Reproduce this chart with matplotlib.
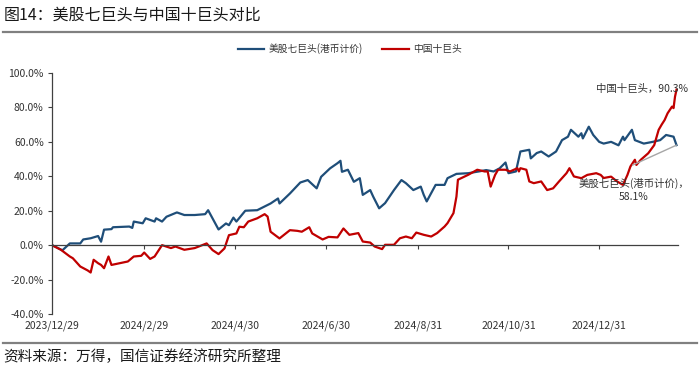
import matplotlib
matplotlib.use("Agg")
import matplotlib.pyplot as plt
import matplotlib.dates as mdates
from matplotlib.lines import Line2D
import pandas as pd

plt.rcParams['font.family'] = ['Noto Sans CJK SC', 'DejaVu Sans']
plt.rcParams['axes.unicode_minus'] = False

# ---------------- data ----------------
us_dates = ['2023-12-29','2024-01-05','2024-01-10','2024-01-17','2024-01-19','2024-01-24','2024-01-29','2024-01-31','2024-02-02','2024-02-07',
            '2024-02-08','2024-02-19','2024-02-21','2024-02-22','2024-02-28','2024-03-01','2024-03-07','2024-03-08','2024-03-12','2024-03-15',
            '2024-03-22','2024-03-27','2024-04-03','2024-04-10','2024-04-12','2024-04-19','2024-04-24','2024-04-26','2024-04-29','2024-05-01',
            '2024-05-07','2024-05-15','2024-05-24','2024-05-29','2024-05-30','2024-06-06','2024-06-13','2024-06-18','2024-06-24','2024-06-27',
            '2024-07-03','2024-07-08','2024-07-10','2024-07-11','2024-07-15','2024-07-19','2024-07-23','2024-07-25','2024-07-30','2024-08-01',
            '2024-08-05','2024-08-09','2024-08-15','2024-08-20','2024-08-23','2024-08-28','2024-09-02','2024-09-04','2024-09-06','2024-09-12',
            '2024-09-18','2024-09-20','2024-09-26','2024-10-04','2024-10-11','2024-10-16','2024-10-21','2024-10-25','2024-10-29','2024-10-31',
            '2024-11-05','2024-11-08','2024-11-14','2024-11-15','2024-11-19','2024-11-22','2024-11-27','2024-12-02','2024-12-06','2024-12-10',
            '2024-12-12','2024-12-17','2024-12-19','2024-12-20','2024-12-24','2024-12-27','2024-12-31','2025-01-03','2025-01-08','2025-01-13',
            '2025-01-16','2025-01-17','2025-01-22','2025-01-24','2025-01-30','2025-02-05','2025-02-10','2025-02-14','2025-02-19','2025-02-21']
us_values = [0, -3, 1, 1, 3.3, 4, 5.3, 2, 9, 9.3,
             10.4, 10.8, 10, 13.7, 12.7, 15.6, 13.7, 15.6, 13.7, 16.5,
             19, 17.5, 17.5, 18, 20.3, 9.1, 12.6, 11.6, 16, 13.7,
             20, 20.3, 24.2, 27.1, 24.2, 30, 36.4, 37.8, 33, 39.7,
             44.6, 47.6, 49, 42.6, 43.8, 36.8, 38.9, 29.2, 32, 28.2,
             21.4, 24.4, 32, 37.8, 36, 32, 34, 29.2, 25.4, 35,
             35, 38.9, 41.4, 41.8, 42.8, 43.6, 42.8, 44.6, 48, 41.8,
             42.8, 54.4, 55.4, 50.4, 53.5, 54.4, 51.5, 54.4, 61, 63,
             67, 63, 65, 62, 68.8, 64, 60, 59, 60, 58,
             63, 61, 67, 61, 59, 60, 61, 64, 63, 58.1]

cn_dates = ['2023-12-29','2024-01-04','2024-01-10','2024-01-12','2024-01-17','2024-01-22','2024-01-24','2024-01-26','2024-01-29','2024-01-31',
            '2024-02-02','2024-02-05','2024-02-07','2024-02-18','2024-02-22','2024-02-27','2024-02-29','2024-03-04','2024-03-07','2024-03-12',
            '2024-03-18','2024-03-21','2024-03-27','2024-04-03','2024-04-11','2024-04-15','2024-04-19','2024-04-23','2024-04-26','2024-05-01',
            '2024-05-03','2024-05-06','2024-05-09','2024-05-15','2024-05-20','2024-05-22','2024-05-24','2024-05-30','2024-06-06','2024-06-11',
            '2024-06-14','2024-06-19','2024-06-21','2024-06-28','2024-07-02','2024-07-08','2024-07-12','2024-07-16','2024-07-22','2024-07-25',
            '2024-07-30','2024-08-02','2024-08-07','2024-08-09','2024-08-15','2024-08-19','2024-08-23','2024-08-27','2024-08-30','2024-09-04',
            '2024-09-09','2024-09-13','2024-09-18','2024-09-20','2024-09-24','2024-09-26','2024-09-27','2024-10-04','2024-10-10','2024-10-15',
            '2024-10-17','2024-10-19','2024-10-22','2024-10-24','2024-10-29','2024-11-01','2024-11-06','2024-11-07','2024-11-08','2024-11-12',
            '2024-11-14','2024-11-17','2024-11-22','2024-11-26','2024-11-30','2024-12-04','2024-12-09','2024-12-11','2024-12-14','2024-12-19',
            '2024-12-23','2024-12-29','2025-01-01','2025-01-03','2025-01-08','2025-01-12','2025-01-16','2025-01-19','2025-01-21','2025-01-24',
            '2025-01-25','2025-01-28','2025-02-02','2025-02-06','2025-02-09','2025-02-11','2025-02-13','2025-02-15','2025-02-18','2025-02-19',
            '2025-02-20','2025-02-21']
cn_values = [0, -2.7, -6.6, -7.6, -12.4, -14.7, -15.9, -8.5, -10.5, -11.5,
             -13.4, -6.6, -11.5, -9.5, -6.6, -6.2, -4.3, -8.0, -6.6, 0,
             -1.7, -0.8, -2.7, -1.7, 1, -2.9, -5.2, -1.9, 5.8, 6.8,
             10.7, 10.4, 13.7, 15.6, 18, 16.6, 7.8, 3.9, 8.7, 8.3,
             7.8, 10.4, 6.8, 3.3, 4.8, 4.5, 9.7, 6, 7, 2.1,
             1.5, -0.8, -2.3, 0.2, 0.2, 4, 5, 4, 7.3, 6,
             5, 7, 10.8, 12.8, 18.6, 28.2, 38, 40.9, 43.8, 42.8,
             42.8, 34, 40.8, 43.8, 43.8, 42.8, 44.7, 42.8, 44.7, 43.8,
             37, 36, 37, 32, 33, 37, 41.8, 44.7, 39.9, 38.9,
             40.8, 41.8, 40.8, 39, 39.8, 37, 35, 40.8, 45.7, 49.6,
             46.6, 49.6, 53.4, 58.1, 67, 70, 72.7, 76.6, 80.5, 79.6,
             86.3, 90.3]

series_names = ['美股七巨头(港币计价)', '中国十巨头']
tick_dates = ['2023-12-29', '2024-02-29', '2024-04-30', '2024-06-30', '2024-08-31', '2024-10-31', '2024-12-31']
tick_labels = ['2023/12/29', '2024/2/29', '2024/4/30', '2024/6/30', '2024/8/31', '2024/10/31', '2024/12/31']
y_ticks = [-40, -20, 0, 20, 40, 60, 80, 100]

title = '图14：美股七巨头与中国十巨头对比'
source = '资料来源：万得，国信证券经济研究所整理'

# ---------------- figure ----------------
W, H = 700, 372
fig = plt.figure(figsize=(W / 100, H / 100), dpi=100)
fig.patch.set_facecolor('white')

ax = fig.add_axes([52 / W, 1 - 314 / H, (678 - 52) / W, (314 - 73) / H])

us_x = pd.to_datetime(us_dates)
cn_x = pd.to_datetime(cn_dates)
blue = '#1F4E79'
red = '#C00000'
l1, = ax.plot(us_x, us_values, color=blue, lw=1.6, solid_joinstyle='round')
l2, = ax.plot(cn_x, cn_values, color=red, lw=1.6, solid_joinstyle='round')

ax.set_xlim(pd.Timestamp('2023-12-29'), pd.Timestamp('2025-02-22'))
ax.set_ylim(-40, 100)

for s in ['top', 'right']:
    ax.spines[s].set_visible(False)
ax.spines['left'].set_color('#404040')
ax.spines['left'].set_linewidth(0.9)
ax.spines['bottom'].set_position(('data', 0))
ax.spines['bottom'].set_color('#404040')
ax.spines['bottom'].set_linewidth(0.9)

ax.set_yticks(y_ticks)
ax.set_yticklabels([f'{v:.1f}%' for v in y_ticks])
ax.tick_params(axis='y', direction='out', length=3, width=0.8, color='#404040',
               labelsize=7.5, labelcolor='#333333', pad=3)

ax.set_xticks(pd.to_datetime(tick_dates))
ax.set_xticklabels(tick_labels)
ax.tick_params(axis='x', direction='out', length=3, width=0.8, color='#404040',
               labelsize=7.5, labelcolor='#333333', pad=51)

# annotations
end_us = us_x[-1]
end_cn = cn_x[-1]
ax.annotate(f'{series_names[1]}，{cn_values[-1]:.1f}%', xy=(end_cn, cn_values[-1]),
            xytext=(11, 1), textcoords='offset pixels', ha='right', va='center',
            fontsize=7.5, color='#333333', annotation_clip=False)
ax.annotate('', xy=(end_us, us_values[-1]), xytext=(-44, -20), textcoords='offset pixels',
            arrowprops=dict(arrowstyle='-', color='#a6a6a6', lw=1, shrinkA=0, shrinkB=0),
            annotation_clip=False)
ax.annotate(f'{series_names[0]}，\n{us_values[-1]:.1f}%', xy=(end_us, us_values[-1]),
            xytext=(-43, -45), textcoords='offset pixels', ha='center', va='center',
            multialignment='center', fontsize=7.5, color='#333333', linespacing=1.3,
            annotation_clip=False)

# legend
fig.legend([l1, l2], series_names, loc='center', bbox_to_anchor=(350 / W, 1 - 49 / H),
           ncol=2, frameon=False, fontsize=7, handlelength=2.7, columnspacing=2.0,
           handletextpad=0.5, labelcolor='#333333')

# title and footer
fig.text(4 / W, 1 - 15 / H, title, fontsize=11.5, color='#1a1a1a', ha='left', va='center')
fig.add_artist(Line2D([3 / W, 697 / W], [1 - 32 / H] * 2, color='#808080', lw=1.6))
fig.add_artist(Line2D([3 / W, 697 / W], [1 - 343 / H] * 2, color='#808080', lw=1.6))
fig.text(3 / W, 1 - 357 / H, source, fontsize=10.5, color='#1a1a1a', ha='left', va='center')

fig.savefig('out.png', dpi=100, facecolor='white')
